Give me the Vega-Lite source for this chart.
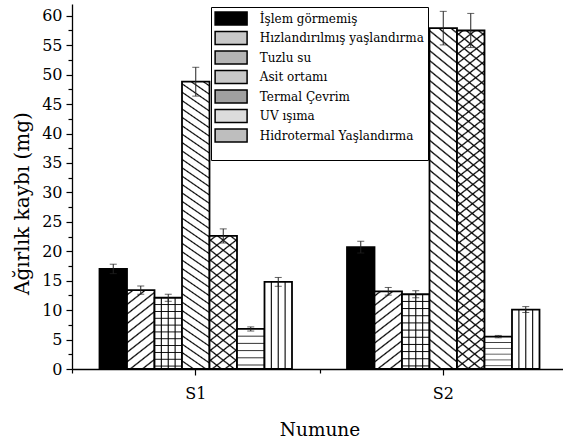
{
"$schema":"https://vega.github.io/schema/vega-lite/v6.json",
"width":491,"height":365,
"autosize":"none",
"padding":{"left":72,"top":4,"right":0,"bottom":75},
"background":"#ffffff",
"config":{"view":{"stroke":null},"font":"DejaVu Serif"},
"data":{"values":[
{"Numune":"S1","Islem":"İşlem görmemiş","Deger":17.0,"Hata":0.8},
{"Numune":"S1","Islem":"Hızlandırılmış yaşlandırma","Deger":13.4,"Hata":0.7},
{"Numune":"S1","Islem":"Tuzlu su","Deger":12.1,"Hata":0.6},
{"Numune":"S1","Islem":"Asit ortamı","Deger":48.8,"Hata":2.45},
{"Numune":"S1","Islem":"Termal Çevrim","Deger":22.6,"Hata":1.2},
{"Numune":"S1","Islem":"UV ışıma","Deger":6.8,"Hata":0.35},
{"Numune":"S1","Islem":"Hidrotermal Yaşlandırma","Deger":14.8,"Hata":0.75},
{"Numune":"S2","Islem":"İşlem görmemiş","Deger":20.7,"Hata":1.0},
{"Numune":"S2","Islem":"Hızlandırılmış yaşlandırma","Deger":13.2,"Hata":0.65},
{"Numune":"S2","Islem":"Tuzlu su","Deger":12.7,"Hata":0.6},
{"Numune":"S2","Islem":"Asit ortamı","Deger":57.9,"Hata":2.85},
{"Numune":"S2","Islem":"Termal Çevrim","Deger":57.5,"Hata":2.9},
{"Numune":"S2","Islem":"UV ışıma","Deger":5.5,"Hata":0.2},
{"Numune":"S2","Islem":"Hidrotermal Yaşlandırma","Deger":10.1,"Hata":0.5}
]},
"encoding":{
"x":{"field":"Numune","type":"nominal","scale":{"range":[0,495],"paddingInner":0,"paddingOuter":0},"axis":null},
"xOffset":{"field":"Islem","type":"nominal","scale":{"domain":["İşlem görmemiş","Hızlandırılmış yaşlandırma","Tuzlu su","Asit ortamı","Termal Çevrim","UV ışıma","Hidrotermal Yaşlandırma"],"paddingInner":0,"paddingOuter":2.275}},
"y":{"field":"Deger","type":"quantitative","scale":{"domain":[0,62],"nice":false},"axis":null}
},
"resolve":{"axis":{"x":"independent","y":"independent"}},
"layer":[
{"mark":{"type":"bar","strokeWidth":0},
"encoding":{
"x":{"field":"Numune","type":"nominal","scale":{"range":[0,495],"paddingInner":0,"paddingOuter":0},"axis":{"orient":"bottom","tickBand":"extent","labels":false,"domain":false,"ticks":true,"tickSize":4,"tickColor":"#000","tickWidth":1.2,"title":null,"grid":false}},
"y":{"field":"Deger","type":"quantitative","scale":{"domain":[0,62],"nice":false},"axis":{"orient":"left","values":[2.5,7.5,12.5,17.5,22.5,27.5,32.5,37.5,42.5,47.5,52.5,57.5],"labels":false,"domain":false,"ticks":true,"tickSize":4,"tickColor":"#000","tickWidth":1.2,"title":null,"grid":false}},
"fill":{"field":"Islem","type":"nominal",
"scale":{"domain":["İşlem görmemiş","Hızlandırılmış yaşlandırma","Tuzlu su","Asit ortamı","Termal Çevrim","UV ışıma","Hidrotermal Yaşlandırma"],
"range":["#000000","#c8c8c8","#b4b4b4","#c8c8c8","#a0a0a0","#dcdcdc","#bebebe"]},
"legend":{"orient":"none","legendX":139,"legendY":3,"title":" ","titleOrient":"bottom","titleFontSize":11,"titlePadding":0,"symbolType":"M-2.46,-1H2.46V1H-2.46Z","symbolSize":169,"symbolOffset":8.6,"symbolStrokeWidth":1.5,"symbolStrokeColor":"#000","labelFont":"DejaVu Serif","labelFontSize":12,"labelColor":"#000","labelOffset":21.2,"rowPadding":0.5,"padding":4,"strokeColor":"#000","fillColor":"#fff","labelExpr":"datum.label + '   '","labelLimit":400}},
"stroke":{"field":"Islem","type":"nominal",
"scale":{"domain":["İşlem görmemiş","Hızlandırılmış yaşlandırma","Tuzlu su","Asit ortamı","Termal Çevrim","UV ışıma","Hidrotermal Yaşlandırma"],
"range":["#000000","#000000","#000000","#000000","#000000","#000000","#000000"]},
"legend":{"orient":"none","legendX":139,"legendY":3,"title":" ","titleOrient":"bottom","titleFontSize":11,"titlePadding":0,"symbolType":"M-2.46,-1H2.46V1H-2.46Z","symbolSize":169,"symbolOffset":8.6,"symbolStrokeWidth":1.5,"labelFont":"DejaVu Serif","labelFontSize":12,"labelColor":"#000","labelOffset":21.2,"rowPadding":0.5,"padding":4,"strokeColor":"#000","fillColor":"#fff","labelExpr":"datum.label + '   '","labelLimit":400}}
}},
{"mark":{"type":"bar","stroke":"#000","strokeWidth":1.8},
"encoding":{
"x":{"field":"Numune","type":"nominal","scale":{"range":[0,495],"paddingInner":0,"paddingOuter":0},"axis":{"orient":"bottom","domainColor":"#000","domainWidth":1.3,"tickColor":"#000","tickWidth":1.2,"tickSize":6,"labelFont":"DejaVu Serif","labelFontSize":16,"labelColor":"#000","labelPadding":10,"labelAngle":0,"title":"Numune","titleFont":"DejaVu Serif","titleFontSize":18.5,"titleFontWeight":"normal","titleColor":"#000","titleBaseline":"alphabetic","titleY":66,"grid":false}},
"y":{"field":"Deger","type":"quantitative","scale":{"domain":[0,62],"nice":false},"axis":{"orient":"left","values":[0,5,10,15,20,25,30,35,40,45,50,55,60],"domainColor":"#000","domainWidth":1.3,"tickColor":"#000","tickWidth":1.2,"tickSize":6,"labelFont":"DejaVu Serif","labelFontSize":16,"labelColor":"#000","labelPadding":4,"title":"Ağırlık kaybı (mg)","titleFont":"DejaVu Serif","titleFontSize":20,"titleFontWeight":"normal","titleColor":"#000","titleAngle":-90,"titleAlign":"center","titleBaseline":"alphabetic","titleX":-44,"titleY":199,"grid":false}},
"fill":{"condition":[
{"test":"datum.Islem === 'İşlem görmemiş'","value":"#000000"},
{"test":"datum.Islem === 'Hızlandırılmış yaşlandırma'","value":{"gradient":"linear","x1":0,"y1":0,"x2":0.3243,"y2":1.1849,"stops":[{"offset":0.0321,"color":"#fff"},{"offset":0.0476,"color":"#000"},{"offset":0.0631,"color":"#fff"},{"offset":0.1274,"color":"#fff"},{"offset":0.1429,"color":"#000"},{"offset":0.1584,"color":"#fff"},{"offset":0.2226,"color":"#fff"},{"offset":0.2381,"color":"#000"},{"offset":0.2536,"color":"#fff"},{"offset":0.3179,"color":"#fff"},{"offset":0.3334,"color":"#000"},{"offset":0.3489,"color":"#fff"},{"offset":0.4132,"color":"#fff"},{"offset":0.4287,"color":"#000"},{"offset":0.4442,"color":"#fff"},{"offset":0.5084,"color":"#fff"},{"offset":0.5239,"color":"#000"},{"offset":0.5394,"color":"#fff"},{"offset":0.6037,"color":"#fff"},{"offset":0.6192,"color":"#000"},{"offset":0.6347,"color":"#fff"},{"offset":0.6989,"color":"#fff"},{"offset":0.7144,"color":"#000"},{"offset":0.7299,"color":"#fff"},{"offset":0.7942,"color":"#fff"},{"offset":0.8097,"color":"#000"},{"offset":0.8252,"color":"#fff"},{"offset":0.8894,"color":"#fff"},{"offset":0.9049,"color":"#000"},{"offset":0.9204,"color":"#fff"}]}},
{"test":"datum.Islem === 'Tuzlu su' || datum.Islem === 'Hidrotermal Yaşlandırma'","value":{"gradient":"linear","x1":0,"y1":0,"x2":1,"y2":0,"stops":[{"offset":0.21,"color":"#fff"},{"offset":0.25,"color":"#000"},{"offset":0.29,"color":"#fff"},{"offset":0.46,"color":"#fff"},{"offset":0.5,"color":"#000"},{"offset":0.54,"color":"#fff"},{"offset":0.71,"color":"#fff"},{"offset":0.75,"color":"#000"},{"offset":0.79,"color":"#fff"}]}},
{"test":"datum.Islem === 'Termal Çevrim' && datum.Numune === 'S1'","value":{"gradient":"linear","x1":1,"y1":0,"x2":0.8176,"y2":1.1318,"stops":[{"offset":0.0224,"color":"#fff"},{"offset":0.0324,"color":"#000"},{"offset":0.0424,"color":"#fff"},{"offset":0.0871,"color":"#fff"},{"offset":0.0971,"color":"#000"},{"offset":0.1071,"color":"#fff"},{"offset":0.1519,"color":"#fff"},{"offset":0.1619,"color":"#000"},{"offset":0.1719,"color":"#fff"},{"offset":0.2166,"color":"#fff"},{"offset":0.2266,"color":"#000"},{"offset":0.2366,"color":"#fff"},{"offset":0.2814,"color":"#fff"},{"offset":0.2914,"color":"#000"},{"offset":0.3014,"color":"#fff"},{"offset":0.3461,"color":"#fff"},{"offset":0.3561,"color":"#000"},{"offset":0.3661,"color":"#fff"},{"offset":0.4109,"color":"#fff"},{"offset":0.4209,"color":"#000"},{"offset":0.4309,"color":"#fff"},{"offset":0.4757,"color":"#fff"},{"offset":0.4857,"color":"#000"},{"offset":0.4957,"color":"#fff"},{"offset":0.5404,"color":"#fff"},{"offset":0.5504,"color":"#000"},{"offset":0.5604,"color":"#fff"},{"offset":0.6052,"color":"#fff"},{"offset":0.6152,"color":"#000"},{"offset":0.6252,"color":"#fff"},{"offset":0.6699,"color":"#fff"},{"offset":0.6799,"color":"#000"},{"offset":0.6899,"color":"#fff"},{"offset":0.7347,"color":"#fff"},{"offset":0.7447,"color":"#000"},{"offset":0.7547,"color":"#fff"},{"offset":0.7994,"color":"#fff"},{"offset":0.8094,"color":"#000"},{"offset":0.8194,"color":"#fff"},{"offset":0.8642,"color":"#fff"},{"offset":0.8742,"color":"#000"},{"offset":0.8842,"color":"#fff"},{"offset":0.9289,"color":"#fff"},{"offset":0.9389,"color":"#000"},{"offset":0.9489,"color":"#fff"}]}},
{"test":"datum.Islem === 'Asit ortamı' || datum.Islem === 'Termal Çevrim'","value":{"gradient":"linear","x1":1,"y1":0,"x2":0.93,"y2":1.0613,"stops":[{"offset":0.0092,"color":"#fff"},{"offset":0.0137,"color":"#000"},{"offset":0.0182,"color":"#fff"},{"offset":0.0366,"color":"#fff"},{"offset":0.0411,"color":"#000"},{"offset":0.0456,"color":"#fff"},{"offset":0.0641,"color":"#fff"},{"offset":0.0686,"color":"#000"},{"offset":0.0731,"color":"#fff"},{"offset":0.0915,"color":"#fff"},{"offset":0.096,"color":"#000"},{"offset":0.1005,"color":"#fff"},{"offset":0.1189,"color":"#fff"},{"offset":0.1234,"color":"#000"},{"offset":0.1279,"color":"#fff"},{"offset":0.1463,"color":"#fff"},{"offset":0.1508,"color":"#000"},{"offset":0.1553,"color":"#fff"},{"offset":0.1737,"color":"#fff"},{"offset":0.1782,"color":"#000"},{"offset":0.1827,"color":"#fff"},{"offset":0.2012,"color":"#fff"},{"offset":0.2057,"color":"#000"},{"offset":0.2102,"color":"#fff"},{"offset":0.2286,"color":"#fff"},{"offset":0.2331,"color":"#000"},{"offset":0.2376,"color":"#fff"},{"offset":0.256,"color":"#fff"},{"offset":0.2605,"color":"#000"},{"offset":0.265,"color":"#fff"},{"offset":0.2834,"color":"#fff"},{"offset":0.2879,"color":"#000"},{"offset":0.2924,"color":"#fff"},{"offset":0.3109,"color":"#fff"},{"offset":0.3154,"color":"#000"},{"offset":0.3199,"color":"#fff"},{"offset":0.3383,"color":"#fff"},{"offset":0.3428,"color":"#000"},{"offset":0.3473,"color":"#fff"},{"offset":0.3657,"color":"#fff"},{"offset":0.3702,"color":"#000"},{"offset":0.3747,"color":"#fff"},{"offset":0.3931,"color":"#fff"},{"offset":0.3976,"color":"#000"},{"offset":0.4021,"color":"#fff"},{"offset":0.4205,"color":"#fff"},{"offset":0.425,"color":"#000"},{"offset":0.4295,"color":"#fff"},{"offset":0.448,"color":"#fff"},{"offset":0.4525,"color":"#000"},{"offset":0.457,"color":"#fff"},{"offset":0.4754,"color":"#fff"},{"offset":0.4799,"color":"#000"},{"offset":0.4844,"color":"#fff"},{"offset":0.5028,"color":"#fff"},{"offset":0.5073,"color":"#000"},{"offset":0.5118,"color":"#fff"},{"offset":0.5302,"color":"#fff"},{"offset":0.5347,"color":"#000"},{"offset":0.5392,"color":"#fff"},{"offset":0.5577,"color":"#fff"},{"offset":0.5622,"color":"#000"},{"offset":0.5667,"color":"#fff"},{"offset":0.5851,"color":"#fff"},{"offset":0.5896,"color":"#000"},{"offset":0.5941,"color":"#fff"},{"offset":0.6125,"color":"#fff"},{"offset":0.617,"color":"#000"},{"offset":0.6215,"color":"#fff"},{"offset":0.6399,"color":"#fff"},{"offset":0.6444,"color":"#000"},{"offset":0.6489,"color":"#fff"},{"offset":0.6674,"color":"#fff"},{"offset":0.6719,"color":"#000"},{"offset":0.6764,"color":"#fff"},{"offset":0.6948,"color":"#fff"},{"offset":0.6993,"color":"#000"},{"offset":0.7038,"color":"#fff"},{"offset":0.7222,"color":"#fff"},{"offset":0.7267,"color":"#000"},{"offset":0.7312,"color":"#fff"},{"offset":0.7496,"color":"#fff"},{"offset":0.7541,"color":"#000"},{"offset":0.7586,"color":"#fff"},{"offset":0.777,"color":"#fff"},{"offset":0.7815,"color":"#000"},{"offset":0.786,"color":"#fff"},{"offset":0.8045,"color":"#fff"},{"offset":0.809,"color":"#000"},{"offset":0.8135,"color":"#fff"},{"offset":0.8319,"color":"#fff"},{"offset":0.8364,"color":"#000"},{"offset":0.8409,"color":"#fff"},{"offset":0.8593,"color":"#fff"},{"offset":0.8638,"color":"#000"},{"offset":0.8683,"color":"#fff"},{"offset":0.8867,"color":"#fff"},{"offset":0.8912,"color":"#000"},{"offset":0.8957,"color":"#fff"},{"offset":0.9142,"color":"#fff"},{"offset":0.9187,"color":"#000"},{"offset":0.9232,"color":"#fff"},{"offset":0.9416,"color":"#fff"},{"offset":0.9461,"color":"#000"},{"offset":0.9506,"color":"#fff"},{"offset":0.969,"color":"#fff"},{"offset":0.9735,"color":"#000"},{"offset":0.978,"color":"#fff"}]}},
{"test":"datum.Islem === 'UV ışıma'","value":{"gradient":"linear","x1":0,"y1":0,"x2":0,"y2":1,"stops":[{"offset":0.155,"color":"#fff"},{"offset":0.18,"color":"#333"},{"offset":0.205,"color":"#fff"},{"offset":0.335,"color":"#fff"},{"offset":0.36,"color":"#333"},{"offset":0.385,"color":"#fff"},{"offset":0.515,"color":"#fff"},{"offset":0.54,"color":"#333"},{"offset":0.565,"color":"#fff"},{"offset":0.695,"color":"#fff"},{"offset":0.72,"color":"#333"},{"offset":0.745,"color":"#fff"},{"offset":0.875,"color":"#fff"},{"offset":0.9,"color":"#333"},{"offset":0.925,"color":"#fff"}]}}
],"value":"#ffffff"}
}},
{"transform":[{"filter":"datum.Islem === 'Tuzlu su' || datum.Islem === 'Termal Çevrim'"}],
"mark":{"type":"bar","strokeWidth":0},
"encoding":{
"fill":{"condition":[
{"test":"datum.Islem === 'Tuzlu su'","value":{"gradient":"linear","x1":0,"y1":0,"x2":0,"y2":1,"stops":[{"offset":0.0829,"color":"transparent"},{"offset":0.0959,"color":"#000"},{"offset":0.1089,"color":"transparent"},{"offset":0.1788,"color":"transparent"},{"offset":0.1918,"color":"#000"},{"offset":0.2048,"color":"transparent"},{"offset":0.2747,"color":"transparent"},{"offset":0.2877,"color":"#000"},{"offset":0.3007,"color":"transparent"},{"offset":0.3706,"color":"transparent"},{"offset":0.3836,"color":"#000"},{"offset":0.3966,"color":"transparent"},{"offset":0.4665,"color":"transparent"},{"offset":0.4795,"color":"#000"},{"offset":0.4925,"color":"transparent"},{"offset":0.5623,"color":"transparent"},{"offset":0.5753,"color":"#000"},{"offset":0.5883,"color":"transparent"},{"offset":0.6582,"color":"transparent"},{"offset":0.6712,"color":"#000"},{"offset":0.6842,"color":"transparent"},{"offset":0.7541,"color":"transparent"},{"offset":0.7671,"color":"#000"},{"offset":0.7801,"color":"transparent"},{"offset":0.85,"color":"transparent"},{"offset":0.863,"color":"#000"},{"offset":0.876,"color":"transparent"},{"offset":0.9459,"color":"transparent"},{"offset":0.9589,"color":"#000"},{"offset":0.9719,"color":"transparent"}]}},
{"test":"datum.Numune === 'S1'","value":{"gradient":"linear","x1":0,"y1":0,"x2":0.1824,"y2":1.1318,"stops":[{"offset":0.0224,"color":"transparent"},{"offset":0.0324,"color":"#000"},{"offset":0.0424,"color":"transparent"},{"offset":0.0871,"color":"transparent"},{"offset":0.0971,"color":"#000"},{"offset":0.1071,"color":"transparent"},{"offset":0.1519,"color":"transparent"},{"offset":0.1619,"color":"#000"},{"offset":0.1719,"color":"transparent"},{"offset":0.2166,"color":"transparent"},{"offset":0.2266,"color":"#000"},{"offset":0.2366,"color":"transparent"},{"offset":0.2814,"color":"transparent"},{"offset":0.2914,"color":"#000"},{"offset":0.3014,"color":"transparent"},{"offset":0.3461,"color":"transparent"},{"offset":0.3561,"color":"#000"},{"offset":0.3661,"color":"transparent"},{"offset":0.4109,"color":"transparent"},{"offset":0.4209,"color":"#000"},{"offset":0.4309,"color":"transparent"},{"offset":0.4757,"color":"transparent"},{"offset":0.4857,"color":"#000"},{"offset":0.4957,"color":"transparent"},{"offset":0.5404,"color":"transparent"},{"offset":0.5504,"color":"#000"},{"offset":0.5604,"color":"transparent"},{"offset":0.6052,"color":"transparent"},{"offset":0.6152,"color":"#000"},{"offset":0.6252,"color":"transparent"},{"offset":0.6699,"color":"transparent"},{"offset":0.6799,"color":"#000"},{"offset":0.6899,"color":"transparent"},{"offset":0.7347,"color":"transparent"},{"offset":0.7447,"color":"#000"},{"offset":0.7547,"color":"transparent"},{"offset":0.7994,"color":"transparent"},{"offset":0.8094,"color":"#000"},{"offset":0.8194,"color":"transparent"},{"offset":0.8642,"color":"transparent"},{"offset":0.8742,"color":"#000"},{"offset":0.8842,"color":"transparent"},{"offset":0.9289,"color":"transparent"},{"offset":0.9389,"color":"#000"},{"offset":0.9489,"color":"transparent"}]}}
],
"value":{"gradient":"linear","x1":0,"y1":0,"x2":0.067,"y2":1.0591,"stops":[{"offset":0.0089,"color":"transparent"},{"offset":0.0132,"color":"#000"},{"offset":0.0175,"color":"transparent"},{"offset":0.0353,"color":"transparent"},{"offset":0.0396,"color":"#000"},{"offset":0.0439,"color":"transparent"},{"offset":0.0617,"color":"transparent"},{"offset":0.066,"color":"#000"},{"offset":0.0703,"color":"transparent"},{"offset":0.0881,"color":"transparent"},{"offset":0.0924,"color":"#000"},{"offset":0.0967,"color":"transparent"},{"offset":0.1145,"color":"transparent"},{"offset":0.1188,"color":"#000"},{"offset":0.1231,"color":"transparent"},{"offset":0.1409,"color":"transparent"},{"offset":0.1452,"color":"#000"},{"offset":0.1495,"color":"transparent"},{"offset":0.1673,"color":"transparent"},{"offset":0.1716,"color":"#000"},{"offset":0.1759,"color":"transparent"},{"offset":0.1937,"color":"transparent"},{"offset":0.198,"color":"#000"},{"offset":0.2023,"color":"transparent"},{"offset":0.2201,"color":"transparent"},{"offset":0.2244,"color":"#000"},{"offset":0.2287,"color":"transparent"},{"offset":0.2464,"color":"transparent"},{"offset":0.2507,"color":"#000"},{"offset":0.255,"color":"transparent"},{"offset":0.2728,"color":"transparent"},{"offset":0.2771,"color":"#000"},{"offset":0.2814,"color":"transparent"},{"offset":0.2992,"color":"transparent"},{"offset":0.3035,"color":"#000"},{"offset":0.3078,"color":"transparent"},{"offset":0.3256,"color":"transparent"},{"offset":0.3299,"color":"#000"},{"offset":0.3342,"color":"transparent"},{"offset":0.352,"color":"transparent"},{"offset":0.3563,"color":"#000"},{"offset":0.3606,"color":"transparent"},{"offset":0.3784,"color":"transparent"},{"offset":0.3827,"color":"#000"},{"offset":0.387,"color":"transparent"},{"offset":0.4048,"color":"transparent"},{"offset":0.4091,"color":"#000"},{"offset":0.4134,"color":"transparent"},{"offset":0.4312,"color":"transparent"},{"offset":0.4355,"color":"#000"},{"offset":0.4398,"color":"transparent"},{"offset":0.4576,"color":"transparent"},{"offset":0.4619,"color":"#000"},{"offset":0.4662,"color":"transparent"},{"offset":0.484,"color":"transparent"},{"offset":0.4883,"color":"#000"},{"offset":0.4926,"color":"transparent"},{"offset":0.5104,"color":"transparent"},{"offset":0.5147,"color":"#000"},{"offset":0.519,"color":"transparent"},{"offset":0.5368,"color":"transparent"},{"offset":0.5411,"color":"#000"},{"offset":0.5454,"color":"transparent"},{"offset":0.5632,"color":"transparent"},{"offset":0.5675,"color":"#000"},{"offset":0.5718,"color":"transparent"},{"offset":0.5896,"color":"transparent"},{"offset":0.5939,"color":"#000"},{"offset":0.5982,"color":"transparent"},{"offset":0.616,"color":"transparent"},{"offset":0.6203,"color":"#000"},{"offset":0.6246,"color":"transparent"},{"offset":0.6424,"color":"transparent"},{"offset":0.6467,"color":"#000"},{"offset":0.651,"color":"transparent"},{"offset":0.6688,"color":"transparent"},{"offset":0.6731,"color":"#000"},{"offset":0.6774,"color":"transparent"},{"offset":0.6951,"color":"transparent"},{"offset":0.6994,"color":"#000"},{"offset":0.7037,"color":"transparent"},{"offset":0.7215,"color":"transparent"},{"offset":0.7258,"color":"#000"},{"offset":0.7301,"color":"transparent"},{"offset":0.7479,"color":"transparent"},{"offset":0.7522,"color":"#000"},{"offset":0.7565,"color":"transparent"},{"offset":0.7743,"color":"transparent"},{"offset":0.7786,"color":"#000"},{"offset":0.7829,"color":"transparent"},{"offset":0.8007,"color":"transparent"},{"offset":0.805,"color":"#000"},{"offset":0.8093,"color":"transparent"},{"offset":0.8271,"color":"transparent"},{"offset":0.8314,"color":"#000"},{"offset":0.8357,"color":"transparent"},{"offset":0.8535,"color":"transparent"},{"offset":0.8578,"color":"#000"},{"offset":0.8621,"color":"transparent"},{"offset":0.8799,"color":"transparent"},{"offset":0.8842,"color":"#000"},{"offset":0.8885,"color":"transparent"},{"offset":0.9063,"color":"transparent"},{"offset":0.9106,"color":"#000"},{"offset":0.9149,"color":"transparent"},{"offset":0.9327,"color":"transparent"},{"offset":0.937,"color":"#000"},{"offset":0.9413,"color":"transparent"},{"offset":0.9591,"color":"transparent"},{"offset":0.9634,"color":"#000"},{"offset":0.9677,"color":"transparent"},{"offset":0.9855,"color":"transparent"},{"offset":0.9898,"color":"#000"},{"offset":0.9941,"color":"transparent"}]}}
}},
{"mark":{"type":"errorbar","color":"#222","thickness":1,"ticks":{"size":7,"thickness":1}},
"encoding":{"yError":{"field":"Hata"}}}
]
}
